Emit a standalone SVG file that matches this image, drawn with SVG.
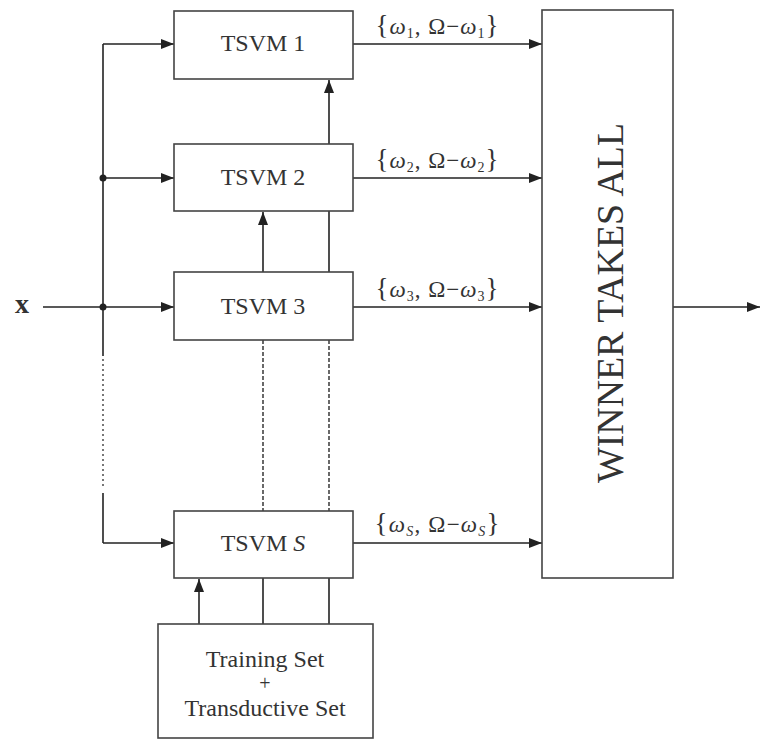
<svg xmlns="http://www.w3.org/2000/svg" width="760" height="740" viewBox="0 0 760 740">
<defs>
<marker id="ah" markerUnits="userSpaceOnUse" markerWidth="14" markerHeight="10" refX="13" refY="5" orient="auto">
<path d="M0,0 L13,5 L0,10 Z" fill="#222"/>
</marker>
<style>
.box{fill:#fff;stroke:#444;stroke-width:1.6}
.ln{fill:none;stroke:#222;stroke-width:1.6}
.dash{fill:none;stroke:#444;stroke-width:1.6;stroke-dasharray:4,2}
.dot{fill:none;stroke:#555;stroke-width:1.6;stroke-dasharray:2,3}
.t{font-family:"Liberation Serif","DejaVu Serif",serif;font-size:24px;fill:#333;text-anchor:middle}
.lbl{font-family:"Liberation Serif","DejaVu Serif",serif;font-size:23px;fill:#333;text-anchor:middle}
.w{font-style:italic}
.s{font-size:14px}
.br{font-size:27px}
</style>
</defs>
<rect width="760" height="740" fill="#fff"/>
<g id="connectors">
<line class="ln" x1="43" y1="307" x2="174" y2="307" marker-end="url(#ah)"/>
<line class="ln" x1="103" y1="44" x2="103" y2="356"/>
<line class="dot" x1="103" y1="359" x2="103" y2="488"/>
<line class="ln" x1="103" y1="493" x2="103" y2="543"/>
<line class="ln" x1="103" y1="44" x2="174" y2="44" marker-end="url(#ah)"/>
<line class="ln" x1="103" y1="178" x2="174" y2="178" marker-end="url(#ah)"/>
<line class="ln" x1="103" y1="543" x2="174" y2="543" marker-end="url(#ah)"/>
<circle cx="103" cy="178" r="3.5" fill="#222"/>
<circle cx="103" cy="307" r="3.5" fill="#222"/>
<line class="ln" x1="329" y1="144" x2="329" y2="80" marker-end="url(#ah)"/>
<line class="ln" x1="329" y1="272" x2="329" y2="211"/>
<line class="ln" x1="263" y1="272" x2="263" y2="212" marker-end="url(#ah)"/>
<line class="dash" x1="263" y1="340" x2="263" y2="511"/>
<line class="dash" x1="329" y1="340" x2="329" y2="511"/>
<line class="ln" x1="263" y1="578" x2="263" y2="624"/>
<line class="ln" x1="329" y1="578" x2="329" y2="624"/>
<line class="ln" x1="199" y1="624" x2="199" y2="579" marker-end="url(#ah)"/>
<line class="ln" x1="353" y1="44" x2="542" y2="44" marker-end="url(#ah)"/>
<line class="ln" x1="353" y1="178" x2="542" y2="178" marker-end="url(#ah)"/>
<line class="ln" x1="353" y1="307" x2="542" y2="307" marker-end="url(#ah)"/>
<line class="ln" x1="353" y1="543" x2="542" y2="543" marker-end="url(#ah)"/>
<line class="ln" x1="673" y1="307" x2="760" y2="307" marker-end="url(#ah)"/>
</g>
<g id="labels">
<text x="22" y="313" font-family="Liberation Serif, DejaVu Serif, serif" font-size="28" font-weight="bold" fill="#333" text-anchor="middle">x</text>
<text class="lbl" x="437" y="34" textLength="123" lengthAdjust="spacing"><tspan class="br">{</tspan><tspan class="w">ω</tspan><tspan class="s" dy="4">1</tspan><tspan dy="-4">, Ω−</tspan><tspan class="w">ω</tspan><tspan class="s" dy="4">1</tspan><tspan class="br" dy="-4">}</tspan></text>
<text class="lbl" x="437" y="168" textLength="123" lengthAdjust="spacing"><tspan class="br">{</tspan><tspan class="w">ω</tspan><tspan class="s" dy="4">2</tspan><tspan dy="-4">, Ω−</tspan><tspan class="w">ω</tspan><tspan class="s" dy="4">2</tspan><tspan class="br" dy="-4">}</tspan></text>
<text class="lbl" x="437" y="297" textLength="123" lengthAdjust="spacing"><tspan class="br">{</tspan><tspan class="w">ω</tspan><tspan class="s" dy="4">3</tspan><tspan dy="-4">, Ω−</tspan><tspan class="w">ω</tspan><tspan class="s" dy="4">3</tspan><tspan class="br" dy="-4">}</tspan></text>
<text class="lbl" x="437" y="532" textLength="125" lengthAdjust="spacing"><tspan class="br">{</tspan><tspan class="w">ω</tspan><tspan class="s w" dy="4">S</tspan><tspan dy="-4">, Ω−</tspan><tspan class="w">ω</tspan><tspan class="s w" dy="4">S</tspan><tspan class="br" dy="-4">}</tspan></text>
</g>
<g id="tsvm1"><rect class="box" x="174" y="11" width="179" height="68"/><text class="t" x="263" y="51">TSVM 1</text></g>
<g id="tsvm2"><rect class="box" x="174" y="144" width="179" height="67"/><text class="t" x="263" y="185">TSVM 2</text></g>
<g id="tsvm3"><rect class="box" x="174" y="272" width="179" height="68"/><text class="t" x="263" y="314">TSVM 3</text></g>
<g id="tsvmS"><rect class="box" x="174" y="511" width="179" height="67"/><text class="t" x="263" y="551">TSVM <tspan font-style="italic">S</tspan></text></g>
<g id="wta"><rect class="box" x="542" y="10" width="131" height="568"/><text class="t" transform="translate(623,303) rotate(-90)" x="0" y="0" style="font-size:37px" textLength="360" lengthAdjust="spacingAndGlyphs">WINNER TAKES ALL</text></g>
<g id="training"><rect class="box" x="158" y="624" width="215" height="114"/>
<text class="t" x="265" y="667">Training Set</text>
<text class="t" x="265" y="690" style="font-size:20px">+</text>
<text class="t" x="265" y="716">Transductive Set</text></g>
</svg>
